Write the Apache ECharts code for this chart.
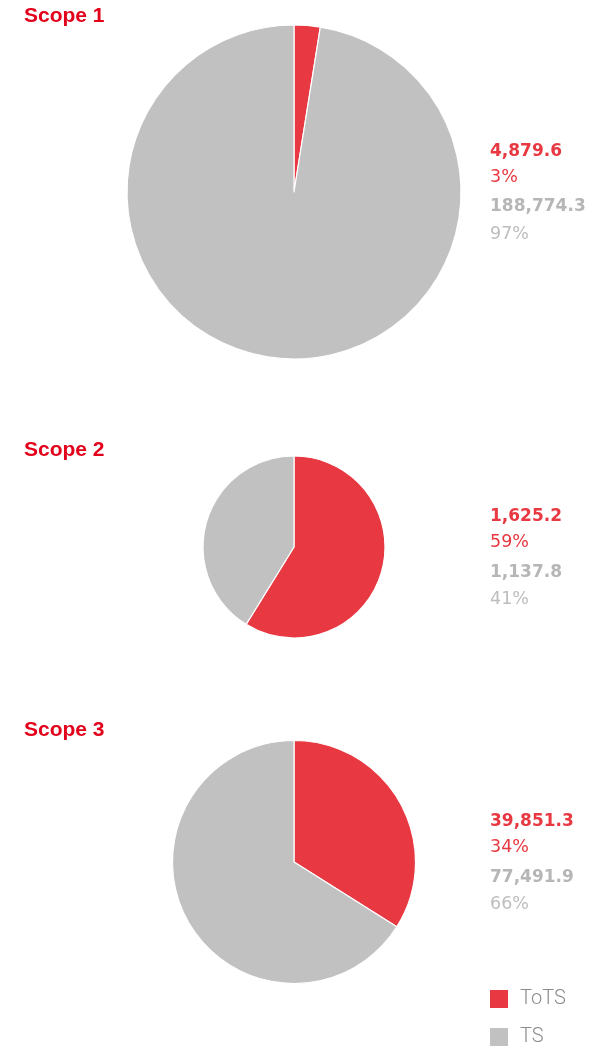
<!DOCTYPE html>
<html>
<head>
<meta charset="utf-8">
<script src="https://cdn.jsdelivr.net/npm/echarts@6/dist/echarts.min.js"></script>
<style>
  html, body { margin: 0; padding: 0; background: #ffffff; }
  #chart { width: 611px; height: 1048px; }
</style>
</head>
<body>
<div id="chart"></div>
<script>
// Emissions split by scope: ToTS vs TS
const scopes = ['Scope 1', 'Scope 2', 'Scope 3'];
const categories = ['ToTS', 'TS'];
const totsValues = [4879.6, 1625.2, 39851.3];
const tsValues = [188774.3, 1137.8, 77491.9];

// Layout of each scope block (pixels)
const pieCenters = [[294, 192], [294, 547], [294, 862]];
const pieRadii = [167, 91, 121.5];
const titleY = [15.8, 450.5, 730.5];
const labelYs = [
  [151.2, 177.5, 206.6, 234.2],
  [516.2, 542.5, 572.9, 599.2],
  [821.2, 847.5, 877.2, 904.2]
];

const RED = '#e83842';
const GREY = '#c1c1c1';
const TITLE_RED = '#e3001b';

const fmt = v => v.toLocaleString('en-US', { minimumFractionDigits: 1, maximumFractionDigits: 1 });

const series = scopes.map((s, i) => ({
  type: 'pie',
  name: s,
  center: pieCenters[i],
  radius: pieRadii[i],
  startAngle: 90,
  clockwise: true,
  silent: true,
  animation: false,
  label: { show: false },
  labelLine: { show: false },
  itemStyle: { borderColor: '#ffffff', borderWidth: 1.2 },
  data: [
    { name: categories[0], value: totsValues[i], itemStyle: { color: RED } },
    { name: categories[1], value: tsValues[i], itemStyle: { color: GREY } }
  ]
}));

const graphics = [];
scopes.forEach((s, i) => {
  graphics.push({
    type: 'text', x: 24, y: titleY[i],
    style: { text: s, fill: TITLE_RED, font: 'bold 21px "Liberation Sans", Arial, sans-serif', verticalAlign: 'middle', align: 'left' }
  });
  const total = totsValues[i] + tsValues[i];
  const rows = [
    { t: fmt(totsValues[i]), c: RED, f: 'bold 17px "DejaVu Sans", sans-serif' },
    { t: Math.round(totsValues[i] / total * 100) + '%', c: RED, f: '17.5px "DejaVu Sans", sans-serif' },
    { t: fmt(tsValues[i]), c: '#b6b6b6', f: 'bold 17px "DejaVu Sans", sans-serif' },
    { t: Math.round(tsValues[i] / total * 100) + '%', c: '#bdbdbd', f: '17.5px "DejaVu Sans", sans-serif' }
  ];
  rows.forEach((r, k) => {
    graphics.push({
      type: 'text', x: 490, y: labelYs[i][k],
      style: { text: r.t, fill: r.c, font: r.f, verticalAlign: 'middle', align: 'left' }
    });
  });
});

const chart = echarts.init(document.getElementById('chart'), null, { renderer: 'canvas' });
chart.setOption({
  animation: false,
  backgroundColor: '#ffffff',
  legend: {
    orient: 'vertical',
    left: 490,
    top: 989,
    height: 120,
    padding: 0,
    itemWidth: 18,
    itemHeight: 18,
    itemGap: 18,
    icon: 'rect',
    selectedMode: false,
    data: categories,
    itemStyle: { borderWidth: 0 },
    formatter: n => '{a|' + n + '}',
    textStyle: {
      rich: {
        a: { fontSize: 20, lineHeight: 16, fontFamily: 'Roboto, sans-serif', fontWeight: 300, color: '#8c8c8c', padding: [0, 0, 0, 7] }
      }
    }
  },
  series: series,
  graphic: graphics
});
</script>
</body>
</html>
